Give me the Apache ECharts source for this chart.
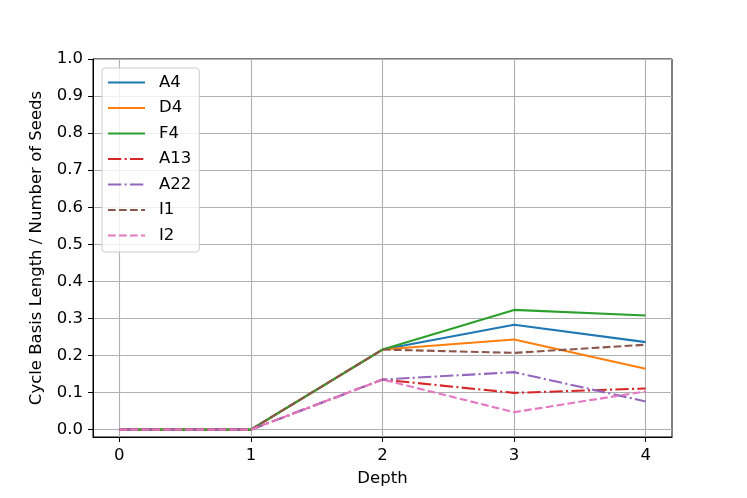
<!DOCTYPE html>
<html>
<head>
<meta charset="utf-8">
<script src="https://cdn.jsdelivr.net/npm/echarts@6/dist/echarts.min.js"></script>
<style>
  html, body { margin: 0; padding: 0; background: #fff; }
  #chart { width: 747px; height: 498px; }
</style>
</head>
<body>
<div id="chart"></div>
<script>
  var depth = [0, 1, 2, 3, 4]
  var names = ['A4', 'D4', 'F4', 'A13', 'A22', 'I1', 'I2']
  var colors = ['#1f77b4', '#ff7f0e', '#2ca02c', '#d62728', '#9467bd', '#8c564b', '#e377c2']
  var a4 = [0, 0, 0.216, 0.283, 0.236]
  var d4 = [0, 0, 0.216, 0.243, 0.164]
  var f4 = [0, 0, 0.216, 0.323, 0.308]
  var a13 = [0, 0, 0.135, 0.099, 0.111]
  var a22 = [0, 0, 0.135, 0.155, 0.076]
  var i1 = [0, 0, 0.216, 0.207, 0.229]
  var i2 = [0, 0, 0.135, 0.047, 0.103]
  var xTicks = [0, 1, 2, 3, 4]
  var yTicks = [0, 0.1, 0.2, 0.3, 0.4, 0.5, 0.6, 0.7, 0.8, 0.9, 1.0]

  var solid = 'solid'
  var dashDot = [13.3, 3.3, 2.1, 3.3]
  var dashed = [7.7, 3.3]
  var styles = [solid, solid, solid, dashDot, dashDot, dashed, dashed]
  var values = [a4, d4, f4, a13, a22, i1, i2]

  var font = 'DejaVu Sans'
  var fs = 16.5
  var chart = echarts.init(document.getElementById('chart'))

  var series = names.map(function (n, i) {
    return {
      name: n,
      type: 'line',
      symbol: 'none',
      data: depth.map(function (d, j) { return [d, values[i][j]] }),
      lineStyle: { color: colors[i], width: 2.1, type: styles[i] },
      itemStyle: { color: colors[i] },
      emphasis: { disabled: true },
    }
  })

  var option = {
    animation: false,
    textStyle: { fontFamily: font },
    grid: {
      left: 93, right: 75, top: 59, bottom: 61,
      show: true, borderColor: '#000', borderWidth: 1,
      backgroundColor: 'transparent',
    },
    legend: {
      orient: 'vertical',
      left: 102, top: 68,
      padding: [6, 8, 8, 5],
      itemWidth: 37, itemHeight: 14, itemGap: 8.5,
      borderColor: '#cccccc', borderWidth: 1, borderRadius: 3,
      backgroundColor: 'rgba(255,255,255,0.8)',
      itemStyle: { opacity: 0 },
      data: names,
      textStyle: { fontFamily: font, fontSize: fs, color: '#000', padding: [0, 0, 0, 9] },
    },
    xAxis: {
      type: 'value',
      min: -0.2, max: 4.2,
      name: 'Depth',
      nameLocation: 'middle',
      nameGap: 33,
      nameTextStyle: { fontFamily: font, fontSize: fs, color: '#000' },
      axisLine: { show: true, onZero: false, lineStyle: { color: '#000', width: 1 } },
      axisTick: { show: true, customValues: xTicks, length: 5, lineStyle: { color: '#000' } },
      axisLabel: { customValues: xTicks, fontFamily: font, fontSize: fs, color: '#000', margin: 10 },
      splitLine: { show: true, lineStyle: { color: '#b0b0b0', width: 1.1 } },
    },
    yAxis: {
      type: 'value',
      min: -0.02, max: 1.0,
      name: 'Cycle Basis Length / Number of Seeds',
      nameLocation: 'middle',
      nameGap: 48,
      nameTextStyle: { fontFamily: font, fontSize: fs, color: '#000' },
      axisLine: { show: true, onZero: false, lineStyle: { color: '#000', width: 1 } },
      axisTick: { show: true, customValues: yTicks, length: 5, lineStyle: { color: '#000' } },
      axisLabel: {
        customValues: yTicks, fontFamily: font, fontSize: fs, color: '#000', margin: 10,
        formatter: function (v) { return v.toFixed(1) },
      },
      splitLine: { show: true, lineStyle: { color: '#b0b0b0', width: 1.1 } },
    },
    series: series,
  }
  chart.setOption(option)
</script>
</body>
</html>
